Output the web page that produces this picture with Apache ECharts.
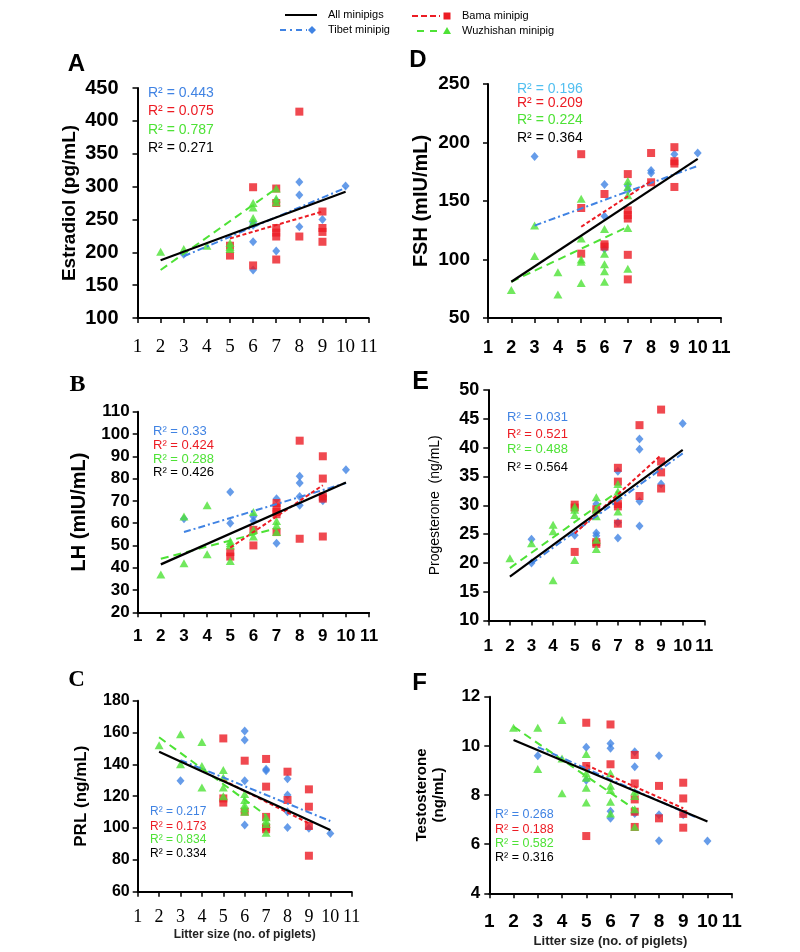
<!DOCTYPE html>
<html>
<head>
<meta charset="utf-8">
<title>Hormones vs litter size</title>
<script src="https://cdn.jsdelivr.net/npm/echarts@6.0.0/dist/echarts.min.js"></script>
<style>
  html, body { margin: 0; padding: 0; background: #fff; }
  #chart { width: 800px; height: 952px; }
</style>
</head>
<body>
<div id="chart"></div>
<script>
// ---- data: [litter size, hormone level] ----
// A  Estradiol (pg/mL)
var aTibet = [[3,197],[6,245],[6,241],[6,216],[6,173],[7,278],[7,202],[8,307],[8,287],[8,239],[9,250],[10,301]];
var aBama = [[5,210],[5,195],[6,299],[6,180],[7,297],[7,275],[7,237],[7,230],[7,224],[7,189],[8,414],[8,224],[9,262],[9,237],[9,231],[9,216]];
var aWuz = [[2,201],[3,205],[4,210],[5,214],[5,208],[5,205],[6,275],[6,268],[6,252],[6,245],[7,297],[7,282],[7,276]];
var aAllFit = [[2,188],[10,292]];
var aTibetFit = [[3,194],[10,298]];
var aBamaFit = [[5,221],[9,262]];
var aWuzFit = [[2,173],[7,297]];

// D  FSH (mIU/mL)
var dTibet = [[3,188],[6,164],[6,137],[6,109],[7,163],[7,159],[8,176],[8,174],[9,190],[10,191]];
var dBama = [[5,190],[5,144],[5,105],[6,156],[6,113],[6,111],[7,173],[7,142],[7,138],[7,135],[7,104],[7,83],[8,191],[8,166],[9,196],[9,184],[9,182],[9,162]];
var dWuz = [[2,74],[3,129],[3,103],[4,89],[4,70],[5,152],[5,118],[5,100],[5,98],[5,80],[6,126],[6,105],[6,96],[6,90],[6,81],[7,167],[7,162],[7,155],[7,127],[7,92]];
var dAllFit = [[2,81],[10,186]];
var dTibetFit = [[3,129],[10,180]];
var dBamaFit = [[5,128],[8,167]];
var dWuzFit = [[2,81],[7,128]];

// B  LH (mIU/mL)
var bTibet = [[3,62],[5,74],[5,60],[6,63],[6,61],[7,71],[7,51],[8,81],[8,78],[8,72],[8,68],[9,72],[9,70],[10,84]];
var bBama = [[5,47],[5,45],[6,50],[6,57],[7,69],[7,67],[7,65],[7,64],[7,56],[8,97],[8,53],[9,90],[9,80],[9,72],[9,71],[9,54]];
var bWuz = [[2,37],[3,63],[3,42],[4,68],[4,46],[5,52],[5,51],[5,50],[5,43],[6,65],[6,57],[6,54],[7,61],[7,59],[7,56]];
var bAllFit = [[2,41.5],[10,78.2]];
var bTibetFit = [[3,56],[10,78]];
var bBamaFit = [[5,49],[9,77]];
var bWuzFit = [[2,44],[7,57.7]];

// E  Progesterone (ng/mL)
var eTibet = [[3,24.1],[3,20],[5,24.8],[6,30.2],[6,25.2],[6,24.7],[7,35.9],[7,27],[7,24.3],[8,41.5],[8,39.7],[8,30.7],[8,26.4],[9,33.7],[10,44.2]];
var eBama = [[5,30.1],[5,29.6],[5,21.9],[6,29.3],[6,23.6],[6,23.3],[7,36.5],[7,34.1],[7,30.2],[7,29.8],[7,26.8],[8,43.9],[8,31.6],[9,46.6],[9,37.6],[9,35.7],[9,32.9]];
var eWuz = [[2,20.8],[3,23.4],[4,26.6],[4,25.5],[4,17],[5,29.8],[5,29.2],[5,28.3],[5,20.5],[6,31.4],[6,29.2],[6,28.1],[6,24],[6,22.4],[7,33.7],[7,32.4],[7,31.7],[7,28.9]];
var eAllFit = [[2,17.6],[10,39.6]];
var eTibetFit = [[3,19.9],[10,39]];
var eBamaFit = [[5,25.1],[9,38.7]];
var eWuzFit = [[2,19.1],[7,32.4]];

// C  PRL (ng/mL)
var cTibet = [[3,129.7],[6,161],[6,155.3],[6,129.7],[6,101.9],[7,137],[7,136],[8,131],[8,120.7],[8,110.3],[8,100.4],[9,99.8],[10,96.6]];
var cBama = [[5,156.3],[5,118.6],[5,116],[6,142.3],[6,110.3],[7,143.4],[7,126],[7,107],[7,100.4],[7,99.2],[8,135.4],[8,117.6],[9,124.3],[9,113.4],[9,101.3],[9,82.6]];
var cWuz = [[2,152],[3,159],[3,140],[4,154],[4,139],[4,125.5],[5,136.4],[5,131.8],[5,125.5],[5,120],[6,121.4],[6,117.6],[6,114.5],[6,112.4],[6,110.3],[7,106.7],[7,104.6],[7,102.5],[7,97]];
var cAllFit = [[2,148],[10,98.7]];
var cTibetFit = [[3,142.7],[10,104.4]];
var cBamaFit = [[5,130],[9,103]];
var cWuzFit = [[2,157],[7,108]];

// F  Testosterone (ng/mL)
var fTibet = [[3,9.6],[5,9.94],[5,8.6],[6,10.1],[6,9.9],[6,7.34],[6,7.05],[7,9.76],[7,9.15],[7,7.25],[8,9.6],[8,7.2],[8,6.14],[9,7.2],[10,6.13]];
var fBama = [[5,10.94],[5,9.18],[5,6.33],[6,10.87],[6,9.25],[7,9.63],[7,8.47],[7,7.82],[7,7.32],[7,6.7],[8,8.37],[8,7.05],[9,8.5],[9,7.86],[9,7.23],[9,6.67]];
var fWuz = [[2,10.74],[3,10.74],[3,9.06],[4,11.05],[4,9.49],[4,8.07],[5,9.67],[5,8.88],[5,8.7],[5,8.3],[5,7.69],[6,8.88],[6,8.38],[6,8.2],[6,7.73],[6,7.25],[7,8.14],[7,7.96],[7,7.42],[7,6.71]];
var fAllFit = [[2,10.24],[10,6.92]];
var fTibetFit = [[3,9.95],[9.5,7.1]];
var fBamaFit = [[5,9.22],[9,7.46]];
var fWuzFit = [[2,10.78],[7,7.42]];

var rSquared = {
  A: ['0.443', '0.075', '0.787', '0.271'],
  D: ['0.196', '0.209', '0.224', '0.364'],
  B: ['0.33', '0.424', '0.288', '0.426'],
  E: ['0.031', '0.521', '0.488', '0.564'],
  C: ['0.217', '0.173', '0.834', '0.334'],
  F: ['0.268', '0.188', '0.582', '0.316']
};

var BLUE = '#4083e3', LIGHTBLUE = '#52bff0', RED = '#ec1c24', GREEN = '#4ee236', BLACK = '#000';
var SANS = 'Liberation Sans, Arial, sans-serif';
var SERIF = 'Liberation Serif, Times New Roman, serif';

// layout of each panel (pixels)
var panels = [
  { key: 'A', data: [aTibet, aBama, aWuz, aAllFit, aTibetFit, aBamaFit, aWuzFit],
    grid: { left: 137.5, top: 88, width: 231.2, height: 230 }, y: [100, 450, 50],
    yName: 'Estradiol (pg/mL)', yNameSize: 19, yNameWeight: 'bold', yNameGap: 57,
    yLab: 20, yMargin: 19, xFont: SERIF, xWeight: 'normal', xLab: 19, xMargin: 20,
    letter: { t: 'A', x: 76.5, y: 64, font: 'bold 24px ' + SANS },
    r2: { x: 148, ys: [93, 111, 130, 148], size: 14, first: BLUE } },
  { key: 'D', data: [dTibet, dBama, dWuz, dAllFit, dTibetFit, dBamaFit, dWuzFit],
    grid: { left: 488, top: 84, width: 233, height: 234 }, y: [50, 250, 50],
    yName: 'FSH (mIU/mL)', yNameSize: 20, yNameWeight: 'bold', yNameGap: 56,
    yLab: 19, yMargin: 18, xFont: SANS, xWeight: 'bold', xLab: 18, xMargin: 21,
    letter: { t: 'D', x: 418, y: 60, font: 'bold 24px ' + SANS },
    r2: { x: 517, ys: [89, 103, 120, 138], size: 14, first: LIGHTBLUE } },
  { key: 'B', data: [bTibet, bBama, bWuz, bAllFit, bTibetFit, bBamaFit, bWuzFit],
    grid: { left: 137.7, top: 411.7, width: 231.4, height: 200.6 }, y: [20, 110, 10],
    yName: 'LH (mIU/mL)', yNameSize: 20, yNameWeight: 'bold', yNameGap: 47,
    yLab: 17, yMargin: 8, xFont: SANS, xWeight: 'bold', xLab: 17, xMargin: 16,
    letter: { t: 'B', x: 77.5, y: 385, font: 'bold 24px ' + SERIF },
    r2: { x: 153, ys: [431, 445, 459, 472.5], size: 13, first: BLUE } },
  { key: 'E', data: [eTibet, eBama, eWuz, eAllFit, eTibetFit, eBamaFit, eWuzFit],
    grid: { left: 488.3, top: 390, width: 216, height: 230.5 }, y: [10, 50, 5],
    yName: 'Progesterone  (ng/mL)', yNameSize: 14, yNameWeight: 'normal', yNameGap: 45,
    yLab: 18, yMargin: 9, xFont: SANS, xWeight: 'bold', xLab: 17, xMargin: 17,
    letter: { t: 'E', x: 420.5, y: 382.5, font: 'bold 25px ' + SANS },
    r2: { x: 507, ys: [417, 434, 449.5, 467.5], size: 13, first: BLUE } },
  { key: 'C', data: [cTibet, cBama, cWuz, cAllFit, cTibetFit, cBamaFit, cWuzFit],
    grid: { left: 137.7, top: 700.7, width: 214, height: 191 }, y: [60, 180, 20],
    yName: 'PRL (ng/mL)', yNameSize: 17, yNameWeight: 'bold', yNameGap: 47,
    yLab: 16, yMargin: 8, xFont: SERIF, xWeight: 'normal', xLab: 18, xMargin: 17,
    xName: 'Litter size (no. of piglets)', xNameSize: 12, xNameGap: 37,
    letter: { t: 'C', x: 76.5, y: 680, font: 'bold 23px ' + SERIF },
    r2: { x: 150, ys: [811.5, 826.5, 839.5, 853.5], size: 12, first: BLUE } },
  { key: 'F', data: [fTibet, fBama, fWuz, fAllFit, fTibetFit, fBamaFit, fWuzFit],
    grid: { left: 489.3, top: 696.7, width: 242.4, height: 196.6 }, y: [4, 12, 2],
    yName: 'Testosterone\n(ng/mL)', yNameSize: 15, yNameWeight: 'bold', yNameGap: 42,
    yLab: 17, yMargin: 9, xFont: SANS, xWeight: 'bold', xLab: 19, xMargin: 19,
    xName: 'Litter size (no. of piglets)', xNameSize: 13, xNameGap: 42,
    letter: { t: 'F', x: 419.5, y: 683.5, font: 'bold 24px ' + SANS },
    r2: { x: 495, ys: [815, 829.5, 843.5, 857.5], size: 12.5, first: BLUE } }
];

var grids = [], xAxes = [], yAxes = [], series = [], graphics = [];
var axisLine = { lineStyle: { color: BLACK, width: 2 } };
var axisTick = { show: true, inside: false, length: 5, lineStyle: { color: BLACK, width: 1.5 } };

panels.forEach(function (p, i) {
  grids.push({ left: p.grid.left, top: p.grid.top, width: p.grid.width, height: p.grid.height,
    containLabel: false, outerBoundsMode: 'none' });
  xAxes.push({
    type: 'value', gridIndex: i, min: 1, max: 11, interval: 1,
    axisLine: axisLine, axisTick: axisTick, splitLine: { show: false },
    axisLabel: { color: BLACK, fontFamily: p.xFont, fontWeight: p.xWeight, fontSize: p.xLab, margin: p.xMargin },
    name: p.xName || '', nameLocation: 'middle', nameGap: p.xNameGap || 0,
    nameTextStyle: { color: '#222', fontFamily: SANS, fontWeight: 'bold', fontSize: p.xNameSize || 12 }
  });
  yAxes.push({
    type: 'value', gridIndex: i, min: p.y[0], max: p.y[1], interval: p.y[2],
    axisLine: axisLine, axisTick: axisTick, splitLine: { show: false },
    axisLabel: { color: BLACK, fontFamily: SANS, fontWeight: 'bold', fontSize: p.yLab, margin: p.yMargin },
    name: p.yName, nameLocation: 'middle', nameRotate: 90, nameGap: p.yNameGap,
    nameTextStyle: { color: BLACK, fontFamily: SANS, fontWeight: p.yNameWeight, fontSize: p.yNameSize,
      lineHeight: p.yNameSize + 2, align: 'center' }
  });

  var d = p.data;
  series.push(
    { type: 'scatter', xAxisIndex: i, yAxisIndex: i, data: d[0], symbol: 'diamond', symbolSize: [8, 9],
      itemStyle: { color: BLUE }, z: 2 },
    { type: 'scatter', xAxisIndex: i, yAxisIndex: i, data: d[1], symbol: 'rect', symbolSize: 8,
      itemStyle: { color: RED }, z: 2 },
    { type: 'scatter', xAxisIndex: i, yAxisIndex: i, data: d[2], symbol: 'triangle', symbolSize: [9, 8],
      itemStyle: { color: GREEN }, z: 2 },
    { type: 'line', xAxisIndex: i, yAxisIndex: i, data: d[4], symbol: 'none', silent: true,
      lineStyle: { color: BLUE, width: 2, type: [7, 3, 2, 3] }, z: 3 },
    { type: 'line', xAxisIndex: i, yAxisIndex: i, data: d[5], symbol: 'none', silent: true,
      lineStyle: { color: RED, width: 2, type: [4, 2.5] }, z: 3 },
    { type: 'line', xAxisIndex: i, yAxisIndex: i, data: d[6], symbol: 'none', silent: true,
      lineStyle: { color: GREEN, width: 2, type: [8, 5] }, z: 3 },
    { type: 'line', xAxisIndex: i, yAxisIndex: i, data: d[3], symbol: 'none', silent: true,
      lineStyle: { color: BLACK, width: 2.2 }, z: 4 }
  );

  graphics.push({ type: 'text', x: p.letter.x, y: p.letter.y,
    style: { text: p.letter.t, font: p.letter.font, fill: BLACK, align: 'center', verticalAlign: 'middle' } });

  var cols = [p.r2.first, RED, GREEN, BLACK];
  rSquared[p.key].forEach(function (v, k) {
    graphics.push({ type: 'text', x: p.r2.x, y: p.r2.ys[k],
      style: { text: 'R\u00b2 = ' + v, font: p.r2.size + 'px ' + SANS, fill: cols[k], align: 'left', verticalAlign: 'middle' } });
  });
});

// legend at the top
var legFont = '11px ' + SANS;
graphics.push(
  { type: 'line', shape: { x1: 285, y1: 15, x2: 317, y2: 15 }, style: { stroke: BLACK, lineWidth: 2 } },
  { type: 'text', x: 328, y: 15, style: { text: 'All minipigs', font: legFont, fill: BLACK, verticalAlign: 'middle' } },
  { type: 'line', shape: { x1: 280, y1: 30, x2: 307, y2: 30 }, style: { stroke: BLUE, lineWidth: 2, lineDash: [6, 4, 2, 4] } },
  { type: 'polygon', shape: { points: [[312, 26], [316, 30], [312, 34], [308, 30]] }, style: { fill: BLUE } },
  { type: 'text', x: 328, y: 29.5, style: { text: 'Tibet minipig', font: legFont, fill: BLACK, verticalAlign: 'middle' } },
  { type: 'line', shape: { x1: 412, y1: 16, x2: 440, y2: 16 }, style: { stroke: RED, lineWidth: 2, lineDash: [6, 3] } },
  { type: 'rect', shape: { x: 443.5, y: 12.5, width: 7, height: 7 }, style: { fill: RED } },
  { type: 'text', x: 462, y: 16, style: { text: 'Bama minipig', font: legFont, fill: BLACK, verticalAlign: 'middle' } },
  { type: 'line', shape: { x1: 417, y1: 31, x2: 437, y2: 31 }, style: { stroke: GREEN, lineWidth: 2, lineDash: [7, 6] } },
  { type: 'polygon', shape: { points: [[447, 27], [451, 34], [443, 34]] }, style: { fill: GREEN } },
  { type: 'text', x: 462, y: 31, style: { text: 'Wuzhishan minipig', font: legFont, fill: BLACK, verticalAlign: 'middle' } }
);

var chart = echarts.init(document.getElementById('chart'), null, { renderer: 'canvas' });
chart.setOption({
  animation: false,
  backgroundColor: '#fff',
  grid: grids,
  xAxis: xAxes,
  yAxis: yAxes,
  series: series,
  graphic: graphics
});
</script>
</body>
</html>
